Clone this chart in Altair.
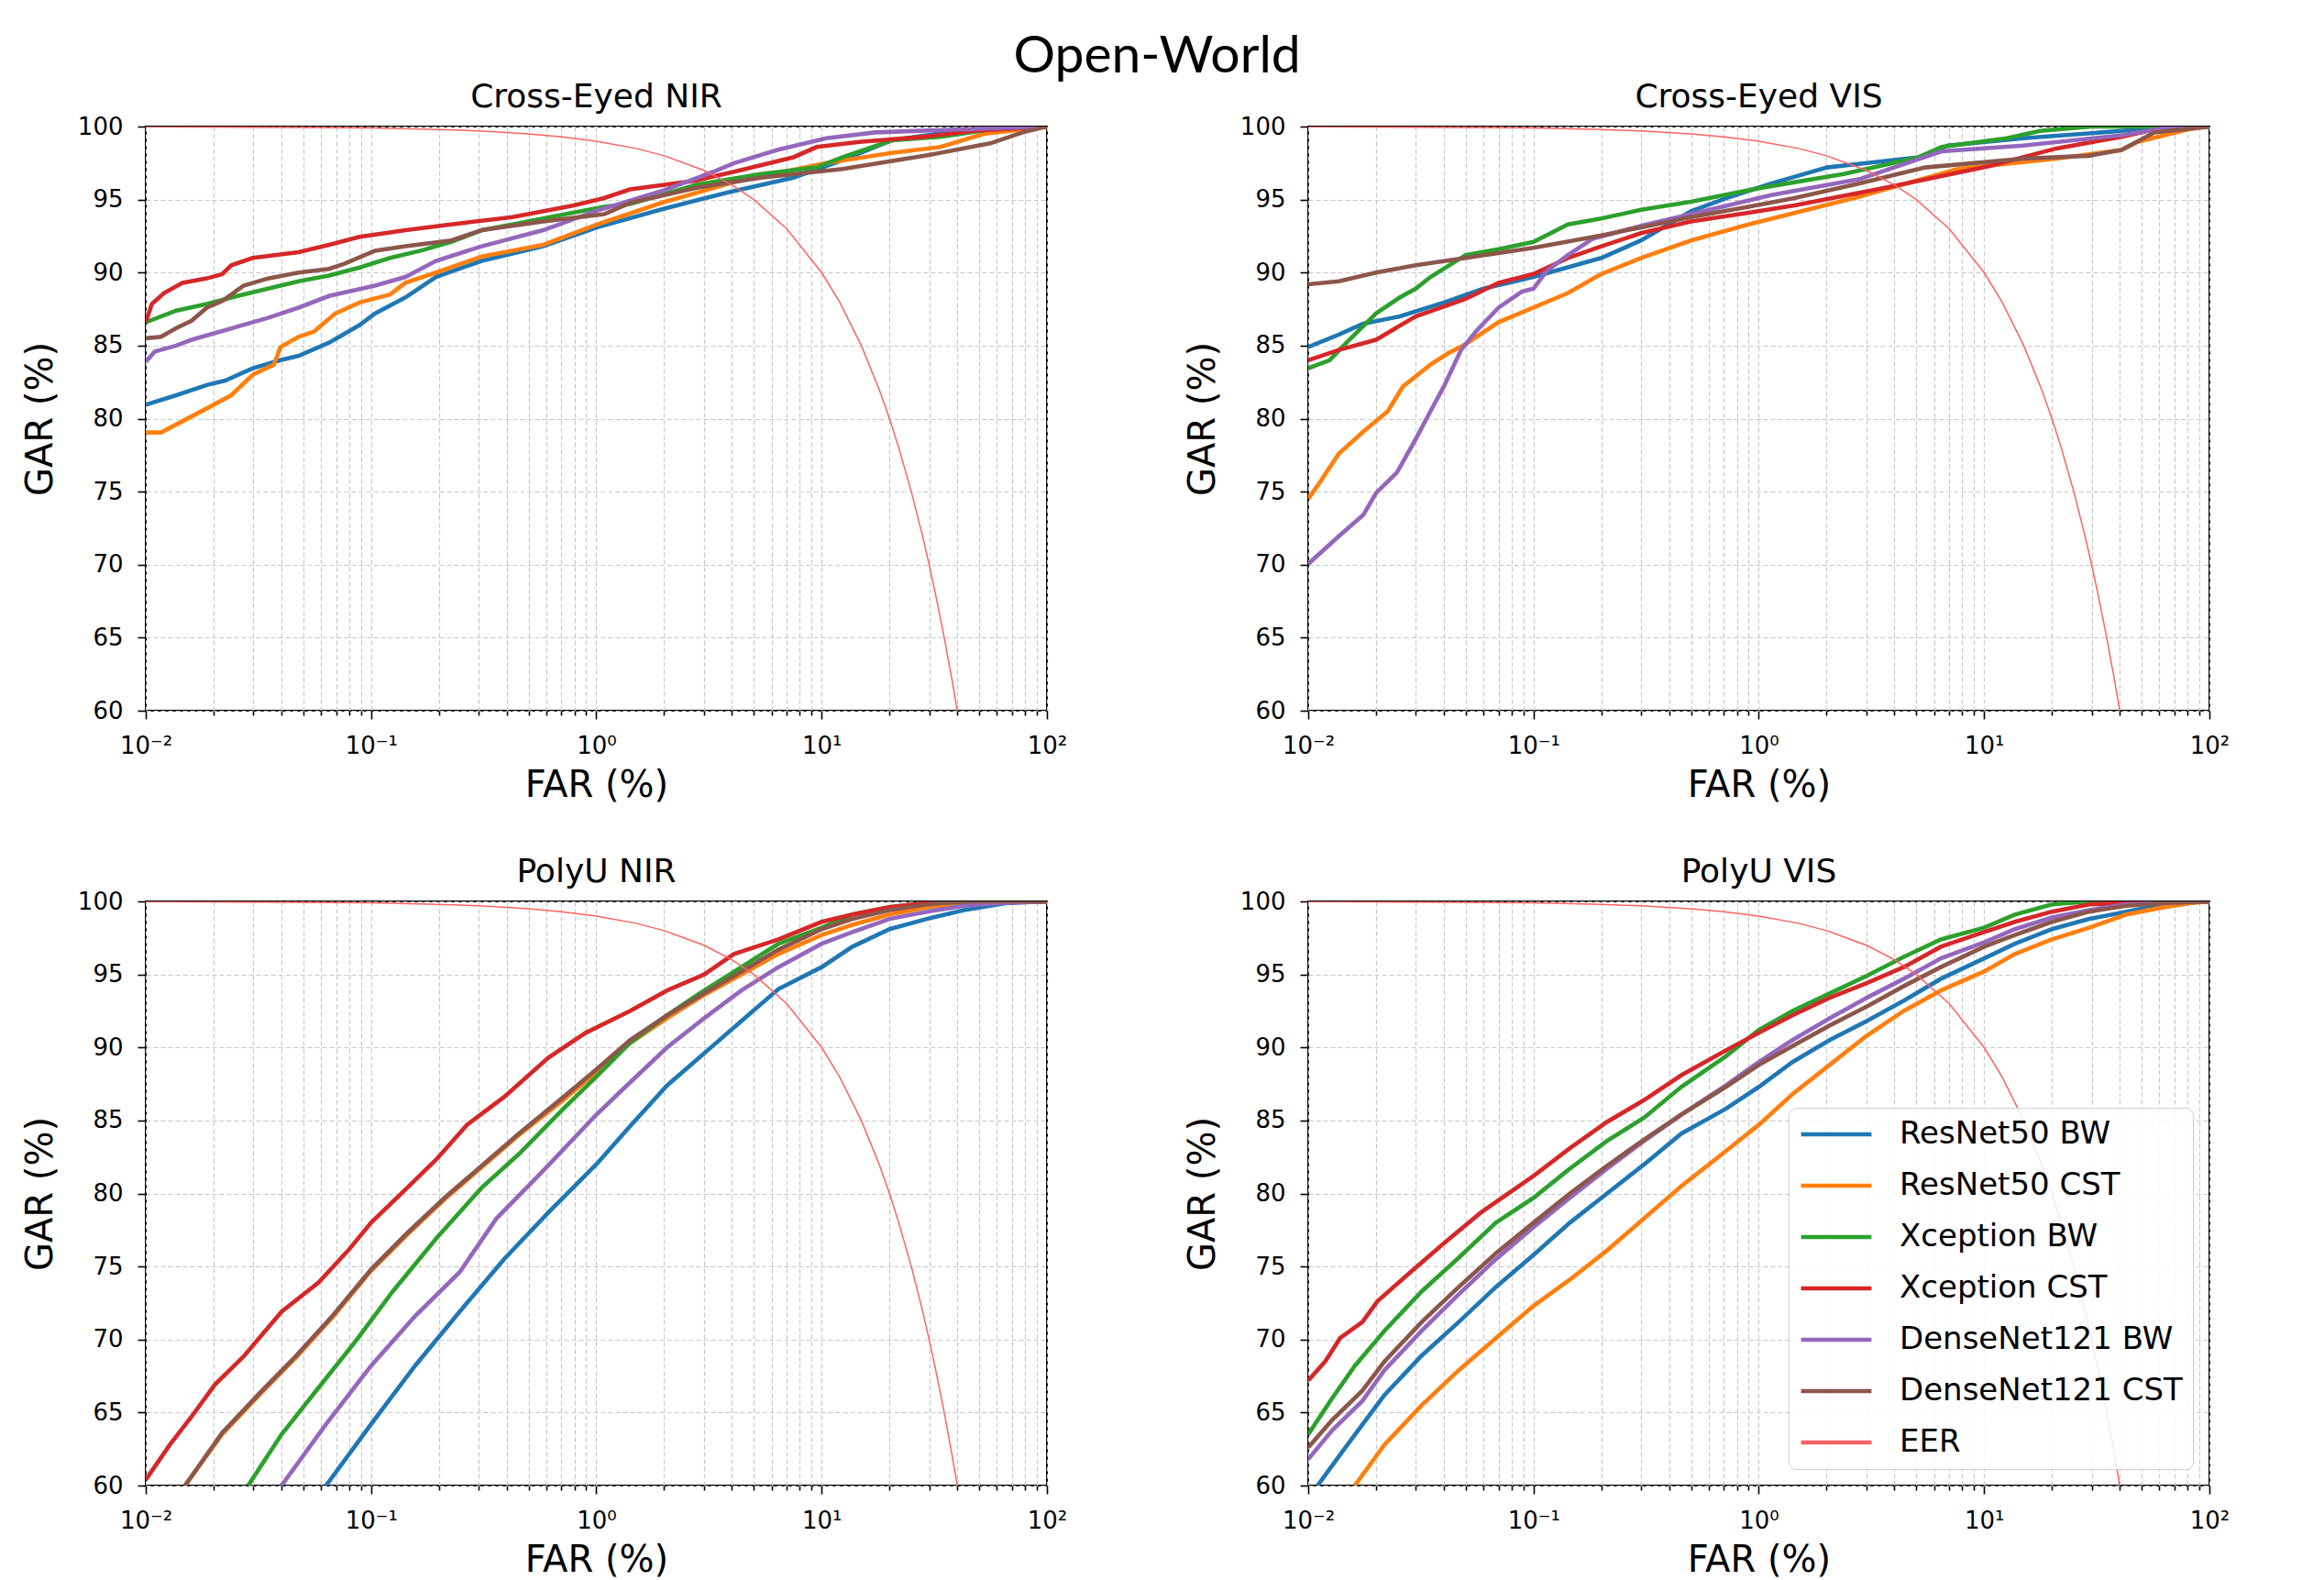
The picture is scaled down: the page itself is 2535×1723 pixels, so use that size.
import altair as alt
import pandas as pd

# ---------------- legend / series names ----------------
MODELS = ["ResNet50 BW", "ResNet50 CST", "Xception BW", "Xception CST",
          "DenseNet121 BW", "DenseNet121 CST", "EER"]
COLORS = ["#1f77b4", "#ff7f0e", "#2ca02c", "#d62728", "#9467bd", "#8c564b", "#ff6262"]

PANEL_TITLES = ["Cross-Eyed NIR", "Cross-Eyed VIS", "PolyU NIR", "PolyU VIS"]
MAIN_TITLE = "Open-World"

# ---------------- axis ticks ----------------
XTICKS = [0.01, 0.02, 0.03, 0.04, 0.05, 0.06, 0.07, 0.08, 0.09,
          0.1, 0.2, 0.3, 0.4, 0.5, 0.6, 0.7, 0.8, 0.9,
          1, 2, 3, 4, 5, 6, 7, 8, 9,
          10, 20, 30, 40, 50, 60, 70, 80, 90, 100]
XMAJOR = [0.01, 0.1, 1, 10, 100]
XMAJOR_LABELS = ["10\u207b\u00b2", "10\u207b\u00b9", "10\u2070", "10\u00b9", "10\u00b2"]
YTICKS = [60, 65, 70, 75, 80, 85, 90, 95, 100]

# ---------------- EER reference curve ----------------
EER_FAR = [0.01, 0.1, 0.2, 0.3, 0.5, 0.7, 1, 1.5, 2, 3, 4, 5, 7, 10, 12, 15, 18, 20, 22, 25, 28, 30, 32, 35, 38, 40]
EER_GAR = [99.99, 99.9, 99.8, 99.7, 99.5, 99.3, 99.0, 98.5, 98.0, 97.0, 96.0, 95.0, 93.0, 90.0, 88.0, 85.0, 82.0, 80.0, 78.0, 75.0, 72.0, 70.0, 68.0, 65.0, 62.0, 60.0]

# ---------------- Cross-Eyed NIR ----------------
CEN_R50BW_FAR = [0.01, 0.01367, 0.01867, 0.0225, 0.02984, 0.03958, 0.04767, 0.0651, 0.0889, 0.104, 0.1422, 0.194, 0.3097, 0.58, 1.01, 1.97, 3.85, 7.5, 12.4, 20.5, 39.8, 100]
CEN_R50BW_GAR = [80.95, 81.6, 82.3, 82.6, 83.45, 84.0, 84.3, 85.2, 86.4, 87.2, 88.3, 89.7, 90.8, 91.8, 93.1, 94.35, 95.5, 96.5, 97.7, 99.06, 99.7, 100]
CEN_R50CST_FAR = [0.01, 0.01169, 0.01367, 0.01867, 0.02397, 0.02984, 0.0371, 0.03958, 0.04767, 0.0557, 0.0693, 0.0889, 0.1215, 0.1422, 0.194, 0.3097, 0.58, 1.01, 1.97, 4.09, 10.5, 20.5, 33.7, 52.5, 78, 100]
CEN_R50CST_GAR = [79.05, 79.05, 79.6, 80.7, 81.6, 83.0, 83.7, 84.9, 85.6, 85.95, 87.2, 87.95, 88.5, 89.3, 90.0, 91.1, 91.9, 93.3, 94.8, 96.2, 97.5, 98.2, 98.6, 99.5, 99.8, 100]
CEN_XBW_FAR = [0.01, 0.01367, 0.01867, 0.02552, 0.03488, 0.04767, 0.0651, 0.0889, 0.1215, 0.166, 0.2266, 0.3097, 0.4243, 0.67, 1.083, 1.41, 2.76, 5.38, 9.5, 12.4, 20.5, 33.7, 56, 100]
CEN_XBW_GAR = [86.6, 87.4, 87.85, 88.4, 88.9, 89.4, 89.8, 90.35, 91.0, 91.5, 92.1, 92.9, 93.3, 93.9, 94.5, 94.7, 96.0, 96.75, 97.2, 97.9, 99.06, 99.3, 99.8, 100]
CEN_XCST_FAR = [0.01, 0.01064, 0.01206, 0.01455, 0.01867, 0.02183, 0.02397, 0.02984, 0.04767, 0.0651, 0.0889, 0.1422, 0.2266, 0.4243, 0.794, 1.083, 1.41, 2.76, 4.09, 7.5, 9.5, 14.7, 28.7, 47.2, 100]
CEN_XCST_GAR = [86.6, 87.85, 88.6, 89.3, 89.6, 89.9, 90.5, 91.0, 91.4, 91.9, 92.45, 92.9, 93.3, 93.8, 94.6, 95.1, 95.7, 96.3, 96.9, 97.9, 98.6, 98.95, 99.3, 99.7, 100]
CEN_D121BW_FAR = [0.01, 0.01098, 0.01367, 0.01597, 0.02183, 0.03488, 0.04767, 0.0651, 0.104, 0.1422, 0.194, 0.3097, 0.58, 1.01, 1.97, 3.25, 4.09, 6.35, 10.5, 17.3, 40, 100]
CEN_D121BW_GAR = [83.9, 84.6, 85.0, 85.4, 86.0, 86.9, 87.6, 88.4, 89.1, 89.7, 90.8, 91.8, 92.9, 94.25, 95.6, 96.86, 97.5, 98.4, 99.2, 99.6, 99.8, 100]
CEN_D121CST_FAR = [0.01, 0.01169, 0.01367, 0.01597, 0.01867, 0.02183, 0.02716, 0.03488, 0.04767, 0.0651, 0.0762, 0.104, 0.1422, 0.2266, 0.3097, 0.58, 1.083, 1.41, 2.76, 5.38, 12.4, 28.7, 56, 78, 100]
CEN_D121CST_GAR = [85.5, 85.6, 86.2, 86.7, 87.6, 88.05, 89.1, 89.6, 90.0, 90.25, 90.6, 91.5, 91.8, 92.2, 92.9, 93.5, 94.0, 94.77, 95.8, 96.5, 97.1, 98.0, 98.85, 99.6, 100]

# ---------------- Cross-Eyed VIS ----------------
CEV_R50BW_FAR = [0.01, 0.01367, 0.01755, 0.02552, 0.04, 0.06, 0.1, 0.2, 0.3, 0.5, 0.75, 1.135, 2.01, 5.13, 6.9, 14.9, 40.7, 70, 100]
CEV_R50BW_GAR = [84.9, 85.75, 86.5, 87.0, 87.95, 88.9, 89.7, 91.0, 92.2, 94.2, 95.2, 96.1, 97.2, 97.9, 98.7, 99.2, 99.7, 100, 100]
CEV_R50CST_FAR = [0.01, 0.01133, 0.01367, 0.01755, 0.02253, 0.02633, 0.03488, 0.04206, 0.05, 0.07, 0.1, 0.1422, 0.2, 0.3, 0.5, 0.9, 2.8, 7.66, 20.9, 40.7, 48, 80, 100]
CEV_R50CST_GAR = [74.5, 75.7, 77.6, 79.1, 80.5, 82.2, 83.7, 84.5, 85.1, 86.6, 87.6, 88.6, 89.9, 91.0, 92.2, 93.3, 95.2, 97.1, 97.8, 98.4, 98.95, 99.8, 100]
CEV_XBW_FAR = [0.01, 0.01244, 0.015, 0.02, 0.02552, 0.03, 0.03488, 0.05, 0.07, 0.1, 0.1422, 0.2, 0.3, 0.5, 0.7, 1.02, 2.38, 5.13, 6.48, 12.6, 17.7, 30, 100]
CEV_XBW_GAR = [83.45, 84.0, 85.3, 87.2, 88.3, 88.9, 89.7, 91.2, 91.6, 92.1, 93.3, 93.7, 94.3, 94.85, 95.3, 95.8, 96.75, 97.9, 98.6, 99.2, 99.7, 100, 100]
CEV_XCST_FAR = [0.01, 0.01367, 0.02, 0.03, 0.05, 0.07, 0.1, 0.1422, 0.2, 0.3, 0.5, 0.9, 1.44, 3.9, 10.6, 20.9, 40.7, 57, 100]
CEV_XCST_GAR = [84.0, 84.7, 85.4, 87.0, 88.2, 89.3, 89.9, 91.0, 91.8, 92.7, 93.5, 94.1, 94.6, 95.9, 97.3, 98.5, 99.3, 99.8, 100]
CEV_D121BW_FAR = [0.01, 0.01367, 0.01755, 0.02, 0.02474, 0.03, 0.03488, 0.04, 0.04767, 0.0557, 0.07, 0.089, 0.1, 0.1143, 0.1422, 0.1825, 0.3, 0.5, 1.135, 2.8, 6.48, 14.9, 40.7, 70, 100]
CEV_D121BW_GAR = [70.05, 71.95, 73.4, 74.9, 76.3, 78.6, 80.5, 82.2, 84.7, 86.0, 87.6, 88.7, 88.9, 90.1, 91.2, 92.3, 93.2, 94.0, 95.3, 96.4, 98.3, 98.7, 99.4, 100, 100]
CEV_D121CST_FAR = [0.01, 0.01367, 0.02, 0.03, 0.05, 0.1, 0.2, 0.3, 0.5, 0.9, 1.44, 2.8, 5.48, 14.9, 29.2, 40.7, 57, 100]
CEV_D121CST_GAR = [89.2, 89.4, 90.0, 90.5, 91.0, 91.7, 92.55, 93.1, 93.8, 94.5, 95.1, 96.1, 97.2, 97.8, 98.0, 98.4, 99.6, 100]

# ---------------- PolyU NIR ----------------
PUN_R50BW_FAR = [0.0631, 0.1, 0.1567, 0.247, 0.389, 0.613, 1.0, 1.41, 2.06, 3.01, 4.4, 6.43, 10, 13.7, 20, 29.3, 42.8, 67.4, 100]
PUN_R50BW_GAR = [60.0, 64.2, 68.2, 71.9, 75.5, 78.7, 82.0, 84.6, 87.4, 89.6, 91.8, 94.0, 95.5, 96.9, 98.1, 98.8, 99.4, 99.9, 100]
PUN_R50CST_FAR = [0.01494, 0.0218, 0.0319, 0.0466, 0.0681, 0.1, 0.145, 0.212, 0.31, 0.453, 0.714, 1.0, 1.41, 2.06, 3.01, 4.4, 6.43, 10, 13.7, 20, 29.3, 42.8, 100]
PUN_R50CST_GAR = [60.0, 63.5, 66.2, 68.8, 71.6, 74.7, 77.2, 79.6, 81.8, 84.0, 86.4, 88.3, 90.3, 92.0, 93.6, 95.0, 96.4, 97.7, 98.4, 99.1, 99.6, 99.9, 100]
PUN_XBW_FAR = [0.02847, 0.04004, 0.0585, 0.0855, 0.1249, 0.1967, 0.31, 0.453, 0.714, 1.0, 1.41, 2.06, 3.01, 4.4, 6.43, 10, 13.7, 20, 29.3, 100]
PUN_XBW_GAR = [60.0, 63.5, 66.7, 69.9, 73.3, 77.0, 80.4, 82.7, 85.8, 88.0, 90.3, 92.2, 93.9, 95.5, 97.1, 98.2, 99.1, 99.6, 99.9, 100]
PUN_XCST_FAR = [0.01, 0.0128, 0.0161, 0.02024, 0.0274, 0.04004, 0.0585, 0.0792, 0.1, 0.145, 0.1967, 0.2665, 0.389, 0.613, 0.896, 1.41, 2.06, 3.01, 4.08, 6.43, 10, 13.7, 20, 29.3, 42.8, 100]
PUN_XCST_GAR = [60.4, 62.8, 64.8, 66.9, 68.9, 71.9, 73.9, 76.1, 78.0, 80.4, 82.4, 84.7, 86.6, 89.3, 91.0, 92.5, 93.9, 95.0, 96.4, 97.4, 98.6, 99.1, 99.6, 99.9, 100, 100]
PUN_D121BW_FAR = [0.04004, 0.0631, 0.1, 0.1567, 0.247, 0.3608, 0.568, 1.0, 1.41, 2.06, 3.01, 4.4, 6.43, 10, 13.7, 20, 29.3, 42.8, 62.5, 100]
PUN_D121BW_GAR = [60.0, 64.2, 68.2, 71.6, 74.6, 78.3, 81.4, 85.4, 87.6, 90.0, 92.0, 93.9, 95.5, 97.1, 97.9, 98.8, 99.3, 99.7, 99.9, 100]
PUN_D121CST_FAR = [0.01494, 0.0218, 0.0319, 0.0466, 0.0681, 0.1, 0.145, 0.212, 0.31, 0.453, 0.714, 1.0, 1.41, 2.06, 3.01, 4.4, 6.43, 10, 13.7, 20, 29.3, 42.8, 100]
PUN_D121CST_GAR = [60.0, 63.6, 66.3, 68.9, 71.7, 74.8, 77.3, 79.7, 81.9, 84.1, 86.6, 88.5, 90.5, 92.2, 93.7, 95.2, 96.7, 98.1, 98.8, 99.4, 99.8, 100, 100]

# ---------------- PolyU VIS ----------------
PUV_R50BW_FAR = [0.011, 0.01494, 0.0218, 0.0319, 0.0466, 0.0681, 0.1, 0.145, 0.212, 0.31, 0.453, 0.714, 1.0, 1.41, 2.06, 3.01, 4.4, 6.43, 10, 13.7, 20, 29.3, 42.8, 67.4, 100]
PUV_R50BW_GAR = [60.0, 62.8, 66.2, 68.9, 71.2, 73.6, 75.8, 78.0, 80.0, 82.0, 84.1, 85.8, 87.3, 89.0, 90.5, 91.8, 93.2, 94.7, 96.1, 97.1, 98.1, 98.8, 99.3, 99.9, 100]
PUV_R50CST_FAR = [0.0161, 0.0218, 0.0319, 0.0466, 0.0681, 0.1, 0.145, 0.212, 0.31, 0.453, 0.714, 1.0, 1.41, 2.06, 3.01, 4.4, 6.43, 10, 13.7, 20, 29.3, 42.8, 62.5, 84.6, 100]
PUV_R50CST_GAR = [60.0, 62.8, 65.5, 67.9, 70.1, 72.3, 74.1, 76.1, 78.3, 80.5, 82.9, 84.7, 86.8, 88.8, 90.8, 92.5, 93.9, 95.2, 96.4, 97.4, 98.2, 99.1, 99.6, 99.9, 100]
PUV_XBW_FAR = [0.01, 0.0128, 0.0161, 0.0218, 0.0319, 0.0466, 0.0681, 0.1, 0.145, 0.212, 0.31, 0.453, 0.714, 1.0, 1.41, 2.06, 3.01, 4.4, 6.43, 10, 13.7, 20, 29.3, 100]
PUV_XBW_GAR = [63.5, 66.0, 68.2, 70.6, 73.3, 75.6, 78.0, 79.7, 81.7, 83.6, 85.2, 87.3, 89.4, 91.2, 92.5, 93.7, 94.9, 96.2, 97.4, 98.2, 99.1, 99.8, 100, 100]
PUV_XCST_FAR = [0.01, 0.0119, 0.01385, 0.0174, 0.02024, 0.0274, 0.04004, 0.0585, 0.1, 0.145, 0.212, 0.31, 0.453, 0.714, 1.0, 1.41, 2.06, 3.01, 4.4, 6.43, 10, 13.7, 20, 29.3, 42.8, 100]
PUV_XCST_GAR = [67.2, 68.5, 70.1, 71.2, 72.6, 74.4, 76.6, 78.7, 81.2, 83.1, 84.9, 86.4, 88.1, 89.8, 91.0, 92.2, 93.4, 94.4, 95.5, 96.9, 97.9, 98.6, 99.3, 99.8, 99.9, 100]
PUV_D121BW_FAR = [0.01, 0.0128, 0.0174, 0.0218, 0.0319, 0.0466, 0.0681, 0.1, 0.145, 0.212, 0.31, 0.453, 0.714, 1.0, 1.41, 2.06, 3.01, 4.4, 6.43, 10, 13.7, 20, 29.3, 42.8, 100]
PUV_D121BW_GAR = [61.8, 63.8, 65.8, 67.9, 70.6, 73.1, 75.5, 77.7, 79.7, 81.7, 83.6, 85.4, 87.4, 89.0, 90.5, 92.0, 93.4, 94.7, 96.1, 97.2, 98.1, 98.9, 99.4, 99.8, 100]
PUV_D121CST_FAR = [0.01, 0.0128, 0.0174, 0.0218, 0.0319, 0.0466, 0.0681, 0.1, 0.145, 0.212, 0.31, 0.453, 0.714, 1.0, 1.41, 2.06, 3.01, 4.4, 6.43, 10, 13.7, 20, 29.3, 42.8, 62.5, 100]
PUV_D121CST_GAR = [62.6, 64.5, 66.5, 68.5, 71.2, 73.6, 75.9, 78.0, 80.0, 81.9, 83.7, 85.4, 87.3, 88.8, 90.1, 91.5, 92.8, 94.2, 95.5, 96.9, 97.7, 98.6, 99.3, 99.7, 99.9, 100]

PANEL_SERIES = [
    [(CEN_R50BW_FAR, CEN_R50BW_GAR), (CEN_R50CST_FAR, CEN_R50CST_GAR), (CEN_XBW_FAR, CEN_XBW_GAR),
     (CEN_XCST_FAR, CEN_XCST_GAR), (CEN_D121BW_FAR, CEN_D121BW_GAR), (CEN_D121CST_FAR, CEN_D121CST_GAR)],
    [(CEV_R50BW_FAR, CEV_R50BW_GAR), (CEV_R50CST_FAR, CEV_R50CST_GAR), (CEV_XBW_FAR, CEV_XBW_GAR),
     (CEV_XCST_FAR, CEV_XCST_GAR), (CEV_D121BW_FAR, CEV_D121BW_GAR), (CEV_D121CST_FAR, CEV_D121CST_GAR)],
    [(PUN_R50BW_FAR, PUN_R50BW_GAR), (PUN_R50CST_FAR, PUN_R50CST_GAR), (PUN_XBW_FAR, PUN_XBW_GAR),
     (PUN_XCST_FAR, PUN_XCST_GAR), (PUN_D121BW_FAR, PUN_D121BW_GAR), (PUN_D121CST_FAR, PUN_D121CST_GAR)],
    [(PUV_R50BW_FAR, PUV_R50BW_GAR), (PUV_R50CST_FAR, PUV_R50CST_GAR), (PUV_XBW_FAR, PUV_XBW_GAR),
     (PUV_XCST_FAR, PUV_XCST_GAR), (PUV_D121BW_FAR, PUV_D121BW_GAR), (PUV_D121CST_FAR, PUV_D121CST_GAR)],
]

PANEL_W = 983
PANEL_H = 637

label_expr = " : ".join(
    f"datum.value == {v} ? '{t}'" for v, t in zip(XMAJOR, XMAJOR_LABELS)
) + " : ''"
major_test = "indexof([" + ",".join(str(v) for v in XMAJOR) + "], datum.value) >= 0"


def make_panel(idx, show_legend):
    rows = []
    for k, (far, gar) in enumerate(PANEL_SERIES[idx]):
        for f, g in zip(far, gar):
            rows.append({"FAR": f, "GAR": g, "Model": MODELS[k], "k": k})
    df = pd.DataFrame(rows)
    eer = pd.DataFrame({"FAR": EER_FAR, "GAR": EER_GAR, "Model": "EER", "k": 6})

    if show_legend:
        leg = alt.Legend(
            title=None, orient="bottom-right", offset=18, padding=11,
            fillColor="rgba(255,255,255,0.85)", strokeColor="#d0d0d0",
            cornerRadius=8, labelFont="DejaVu Sans", labelFontSize=34,
            labelColor="black", labelOffset=28, symbolType="stroke",
            symbolSize=5900, symbolStrokeWidth=4.5, clipHeight=36, rowPadding=20,
            labelLimit=600,
        )
    else:
        leg = None

    xaxis = alt.Axis(
        title="FAR (%)", values=XTICKS, labelExpr=label_expr,
        tickSize={"condition": {"test": major_test, "value": 9}, "value": 5},
        labelFlush=False, labelOverlap=False, labelPadding=16, titlePadding=10,
        grid=True,
    )
    yaxis = alt.Axis(
        title="GAR (%)", values=YTICKS, tickSize=9, labelFlush=False,
        labelOverlap=False, labelPadding=16, titlePadding=20, grid=True,
    )
    x = alt.X("FAR:Q", scale=alt.Scale(type="log", domain=[0.01, 100], nice=False), axis=xaxis)
    y = alt.Y("GAR:Q", scale=alt.Scale(domain=[60, 100], nice=False, zero=False), axis=yaxis)
    color = alt.Color("Model:N", scale=alt.Scale(domain=MODELS, range=COLORS), legend=leg)

    curves = alt.Chart(df).mark_line(clip=True, strokeWidth=4.6, strokeCap="butt").encode(
        x=x, y=y, color=color, detail="k:N",
    )
    eer_line = alt.Chart(eer).mark_line(clip=True, strokeWidth=1.5).encode(
        x=x, y=y, color=color,
    )
    return alt.layer(curves, eer_line).properties(
        width=PANEL_W, height=PANEL_H,
        title=alt.TitleParams(PANEL_TITLES[idx], font="DejaVu Sans", fontSize=36,
                              fontWeight="normal", color="black", offset=0),
    )


panels = [make_panel(0, False), make_panel(1, False), make_panel(2, False), make_panel(3, True)]

chart = alt.concat(
    *panels, columns=2, spacing={"row": 208, "column": 285}, bounds="flush"
).resolve_scale(
    color="independent"
).resolve_legend(
    color="independent"
).properties(
    title=alt.TitleParams(MAIN_TITLE, font="Lato", fontSize=57, fontWeight="normal",
                          color="black", anchor="middle", dx=34, offset=-4),
    padding={"left": 23, "top": 33, "right": 0, "bottom": 0},
    background="white",
).configure_view(
    stroke="black", strokeWidth=2,
).configure_axis(
    domain=False,
    labelFont="DejaVu Sans", labelFontSize=26, labelColor="black",
    titleFont="DejaVu Sans", titleFontSize=40, titleFontWeight="normal", titleColor="black",
    tickColor="black", tickWidth=1.6,
    gridColor="#c8c8c8", gridDash=[5, 3], gridWidth=1.2,
)

chart.save("out.html", embed_options={"renderer": "svg", "actions": False})
